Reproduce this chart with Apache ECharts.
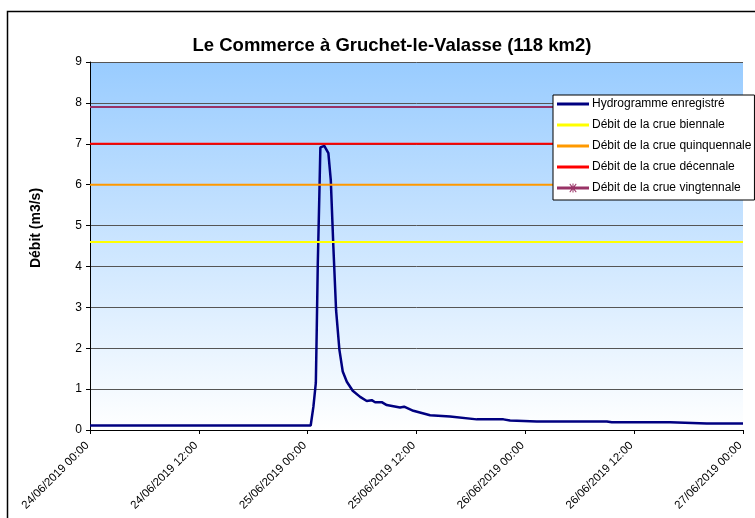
<!DOCTYPE html>
<html>
<head>
<meta charset="utf-8">
<script src="https://cdn.jsdelivr.net/npm/echarts@6/dist/echarts.min.js"></script>
<style>
    html, body { margin: 0; padding: 0; background: #ffffff; }
    #chart { width: 755px; height: 518px; }
</style>
</head>
<body>
<div id="chart"></div>
<script>
// Hydrogramme enregistré (heure UTC, débit m3/s)
const hydroTimes = [
    "2019-06-24T00:00Z", "2019-06-25T00:20Z", "2019-06-25T00:27Z", "2019-06-25T00:38Z",
    "2019-06-25T00:54Z", "2019-06-25T01:00Z", "2019-06-25T01:07Z", "2019-06-25T01:17Z",
    "2019-06-25T01:24Z", "2019-06-25T01:50Z", "2019-06-25T02:17Z", "2019-06-25T02:33Z",
    "2019-06-25T02:50Z", "2019-06-25T03:08Z", "2019-06-25T03:30Z", "2019-06-25T03:52Z",
    "2019-06-25T04:19Z", "2019-06-25T04:58Z", "2019-06-25T05:47Z", "2019-06-25T06:31Z",
    "2019-06-25T07:04Z", "2019-06-25T07:26Z", "2019-06-25T08:10Z", "2019-06-25T08:43Z",
    "2019-06-25T10:11Z", "2019-06-25T10:38Z", "2019-06-25T11:39Z", "2019-06-25T13:30Z",
    "2019-06-25T15:42Z", "2019-06-25T18:39Z", "2019-06-25T21:35Z", "2019-06-25T22:19Z",
    "2019-06-26T01:16Z", "2019-06-26T08:59Z", "2019-06-26T09:32Z", "2019-06-26T15:58Z",
    "2019-06-26T20:00Z", "2019-06-27T00:00Z"
];
const hydroValues = [
    0.11, 0.11, 0.13, 0.57,
    1.15, 2.44, 4.08, 5.70,
    6.91, 6.95, 6.77, 6.11,
    4.48, 2.93, 1.96, 1.43,
    1.18, 0.96, 0.81, 0.71,
    0.73, 0.68, 0.68, 0.61,
    0.55, 0.57, 0.47, 0.36,
    0.33, 0.26, 0.26, 0.23,
    0.21, 0.21, 0.19, 0.19,
    0.16, 0.16
];

// Débits de crue de référence
const crueNames = [
    "Débit de la crue biennale",
    "Débit de la crue quinquennale",
    "Débit de la crue décennale",
    "Débit de la crue vingtennale"
];
const crueValues = [4.6, 6.0, 7.0, 7.9];
const crueColors = ["#ffff00", "#ff9900", "#ff0000", "#993366"];

// Bornes de l'axe des temps
const timeStart = "2019-06-24T00:00Z";
const timeEnd = "2019-06-27T00:00Z";
const yTicks = [0, 1, 2, 3, 4, 5, 6, 7, 8, 9];

const xMin = Date.parse(timeStart);
const xMax = Date.parse(timeEnd);
const pad = (n) => String(n).padStart(2, "0");

// Formate une date en jj/mm/aaaa hh:mm
function formatDate(ms) {
    const d = new Date(ms);
    return pad(d.getUTCDate()) + "/" + pad(d.getUTCMonth() + 1) + "/" + d.getUTCFullYear()
        + " " + pad(d.getUTCHours()) + ":" + pad(d.getUTCMinutes());
}

// Icônes de légende : trait simple, ou trait avec astérisque
const lineIcon = "path://M0,0h32v3h-32z";
const starIcon = "path://M0,5.5h32v3h-32z"
    + "M15.5,2.5h1v9h-1z"
    + "M12.4,3.2L13.1,2.5L19.6,10.8L18.9,11.5z"
    + "M18.9,2.5L19.6,3.2L13.1,11.5L12.4,10.8z";

const chart = echarts.init(document.getElementById("chart"));

const series = [{
    name: "Hydrogramme enregistré",
    type: "line",
    symbol: "none",
    color: "#000080",
    lineStyle: { width: 2.5, color: "#000080" },
    data: hydroTimes.map((t, i) => [Date.parse(t), hydroValues[i]])
}];
crueNames.forEach((name, i) => {
    series.push({
        name: name,
        type: "line",
        symbol: "none",
        color: crueColors[i],
        lineStyle: { width: 2, color: crueColors[i] },
        data: [[xMin, crueValues[i]], [xMax, crueValues[i]]]
    });
});

const legendData = [{ name: "Hydrogramme enregistré", icon: lineIcon }].concat(
    crueNames.map((name, i) => ({ name: name, icon: i === 3 ? starIcon : lineIcon }))
);

chart.setOption({
    backgroundColor: "#ffffff",
    animation: false,
    textStyle: { fontFamily: "Arial, 'Liberation Sans', sans-serif" },
    title: {
        text: "Le Commerce à Gruchet-le-Valasse (118 km2)",
        left: 387,
        top: 31,
        textAlign: "center",
        textStyle: { fontSize: 18.5, fontWeight: "bold", color: "#000" }
    },
    legend: {
        orient: "vertical",
        left: 553,
        top: 95,
        width: 200,
        padding: [3, 3, 6, 4],
        itemGap: 9,
        itemWidth: 32,
        itemHeight: 14,
        symbolKeepAspect: true,
        backgroundColor: "#ffffff",
        borderColor: "#000000",
        borderWidth: 1,
        borderRadius: 0,
        textStyle: { fontSize: 12, color: "#000", padding: [0, 0, 0, -2] },
        data: legendData
    },
    grid: {
        left: 90,
        right: 12,
        top: 62,
        bottom: 88,
        show: true,
        borderWidth: 0,
        backgroundColor: {
            type: "linear", x: 0, y: 0, x2: 0, y2: 1,
            colorStops: [
                { offset: 0, color: "#99ccff" },
                { offset: 1, color: "#ffffff" }
            ]
        }
    },
    xAxis: {
        type: "value",
        min: xMin,
        max: xMax,
        interval: 12 * 3600 * 1000,
        axisLine: { lineStyle: { color: "#000", width: 1 } },
        axisTick: { show: true, length: 4, lineStyle: { color: "#000" } },
        splitLine: { show: false },
        axisLabel: {
            rotate: 45,
            fontSize: 11.5,
            color: "#000",
            margin: 11,
            padding: [0, 4, 0, 0],
            formatter: (v) => formatDate(v)
        }
    },
    yAxis: {
        type: "value",
        min: yTicks[0],
        max: yTicks[yTicks.length - 1],
        interval: 1,
        name: "Débit (m3/s)",
        nameLocation: "middle",
        nameGap: 47,
        nameTextStyle: { fontSize: 14, fontWeight: "bold", color: "#000", padding: [0, 0, 0, 36] },
        axisLine: { show: true, lineStyle: { color: "#000", width: 1 } },
        axisTick: { show: true, length: 4, lineStyle: { color: "#000" } },
        splitLine: { show: true, lineStyle: { color: "#555", width: 1 } },
        axisLabel: { fontSize: 12, color: "#000", margin: 8 }
    },
    graphic: [{
        type: "rect",
        shape: { x: 7.5, y: 11.5, width: 800, height: 600 },
        style: { fill: null, stroke: "#000", lineWidth: 1.5 },
        silent: true
    }],
    series: series
});
</script>
</body>
</html>
